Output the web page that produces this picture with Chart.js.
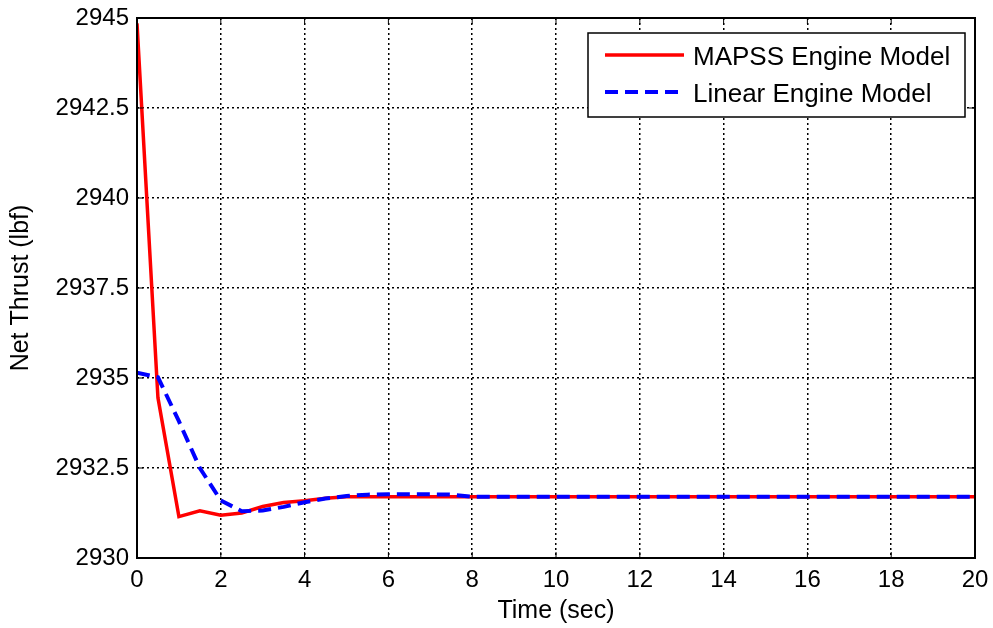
<!DOCTYPE html>
<html>
<head>
<meta charset="utf-8">
<script src="https://cdn.jsdelivr.net/npm/chart.js@4/dist/chart.umd.min.js"></script>
<style>
  html, body { margin: 0; padding: 0; background: #fff; }
  #wrap { width: 993px; height: 628px; }
</style>
</head>
<body>
<div id="wrap"><canvas id="thrustChart" width="993" height="628"></canvas></div>
<script>
// Net thrust response, MAPSS vs linear model
const timeMapss = [0, 0.5, 1, 1.5, 2, 2.5, 3, 3.5, 4, 4.5, 5, 5.5, 6, 8, 10, 12, 14, 16, 18, 20];
const thrustMapss = [2944.85, 2934.45, 2931.15, 2931.31, 2931.19, 2931.25, 2931.43, 2931.54, 2931.59, 2931.66, 2931.70, 2931.70, 2931.70, 2931.70, 2931.70, 2931.70, 2931.70, 2931.70, 2931.70, 2931.70];
const timeLinear = [0, 0.5, 1, 1.5, 2, 2.5, 3, 3.5, 4, 4.5, 5, 5.5, 6, 7, 7.5, 8, 10, 12, 14, 16, 18, 20];
const thrustLinear = [2935.15, 2935.02, 2933.8, 2932.5, 2931.6, 2931.30, 2931.32, 2931.42, 2931.55, 2931.65, 2931.72, 2931.76, 2931.77, 2931.77, 2931.76, 2931.70, 2931.70, 2931.70, 2931.70, 2931.70, 2931.70, 2931.70];
const xTicks = [0, 2, 4, 6, 8, 10, 12, 14, 16, 18, 20];
const yTicks = [2930, 2932.5, 2935, 2937.5, 2940, 2942.5, 2945];
const seriesNames = ['MAPSS Engine Model', 'Linear Engine Model'];

const FONT = 'Liberation Sans, Arial, sans-serif';

const toPoints = (xs, ys) => xs.map((x, i) => ({ x: x, y: ys[i] }));

// frame + legend box drawn inside the plot
const framePlugin = {
    id: 'framePlugin',
    afterDraw(chart) {
        const ctx = chart.ctx;
        const a = chart.chartArea;
        ctx.save();
        ctx.strokeStyle = '#000';
        ctx.lineWidth = 2;
        ctx.setLineDash([]);
        ctx.strokeRect(a.left, a.top, a.right - a.left, a.bottom - a.top);

        // small inward ticks like matlab
        ctx.lineWidth = 1;
        const xs = chart.scales.x, ys = chart.scales.y;
        xTicks.forEach(v => {
            const px = xs.getPixelForValue(v);
            ctx.beginPath();
            ctx.moveTo(px, a.bottom); ctx.lineTo(px, a.bottom - 6);
            ctx.moveTo(px, a.top); ctx.lineTo(px, a.top + 6);
            ctx.stroke();
        });
        yTicks.forEach(v => {
            const py = ys.getPixelForValue(v);
            ctx.beginPath();
            ctx.moveTo(a.left, py); ctx.lineTo(a.left + 6, py);
            ctx.moveTo(a.right, py); ctx.lineTo(a.right - 6, py);
            ctx.stroke();
        });

        // legend
        const bx = 588, by = 33, bw = 377, bh = 84;
        ctx.fillStyle = '#fff';
        ctx.fillRect(bx, by, bw, bh);
        ctx.lineWidth = 1.5;
        ctx.strokeStyle = '#000';
        ctx.strokeRect(bx, by, bw, bh);
        ctx.font = '26px ' + FONT;
        ctx.textBaseline = 'middle';
        chart.data.datasets.forEach((ds, i) => {
            const y = by + 22 + i * 37;
            ctx.strokeStyle = ds.borderColor;
            ctx.lineWidth = ds.borderWidth;
            ctx.setLineDash(ds.borderDash || []);
            ctx.beginPath();
            ctx.moveTo(605, y); ctx.lineTo(684, y);
            ctx.stroke();
            ctx.setLineDash([]);
            ctx.fillStyle = '#000';
            ctx.fillText(ds.label, 693, y + 3);
        });
        ctx.restore();
    }
};

new Chart(document.getElementById('thrustChart').getContext('2d'), {
    type: 'line',
    data: {
        datasets: [{
            label: seriesNames[0],
            data: toPoints(timeMapss, thrustMapss),
            borderColor: '#ff0000',
            borderWidth: 3.5,
            pointRadius: 0,
            tension: 0,
            fill: false,
            order: 1
        }, {
            label: seriesNames[1],
            data: toPoints(timeLinear, thrustLinear),
            borderColor: '#0000ff',
            borderWidth: 4,
            borderDash: [13, 7],
            pointRadius: 0,
            tension: 0,
            fill: false,
            order: 0
        }]
    },
    options: {
        responsive: false,
        animation: false,
        layout: { padding: { top: 18, right: 18, left: 0, bottom: 0 } },
        plugins: {
            legend: { display: false },
            tooltip: { enabled: false }
        },
        scales: {
            x: {
                type: 'linear',
                min: 0, max: 20,
                afterBuildTicks: s => { s.ticks = xTicks.map(v => ({ value: v })); },
                afterFit: s => { s.height = 70; s.paddingLeft = 0; s.paddingRight = 0; },
                grid: { color: '#000', lineWidth: 1.5, drawTicks: false },
                border: { display: false, dash: [2, 3] },
                ticks: { color: '#000', font: { family: FONT, size: 24 }, padding: 8, maxRotation: 0 },
                title: { display: true, text: 'Time (sec)', color: '#000', font: { family: FONT, size: 25 }, padding: { top: 0, bottom: 2 } }
            },
            y: {
                min: 2930, max: 2945,
                afterBuildTicks: s => { s.ticks = yTicks.map(v => ({ value: v })); },
                afterFit: s => { s.width = 137; s.paddingTop = 0; s.paddingBottom = 0; },
                grid: { color: '#000', lineWidth: 1.5, drawTicks: false },
                border: { display: false, dash: [2, 3] },
                ticks: { color: '#000', font: { family: FONT, size: 24 }, padding: 8, callback: v => String(v) },
                title: { display: true, text: 'Net Thrust (lbf)', color: '#000', font: { family: FONT, size: 25 }, padding: { top: 6, bottom: 0 } }
            }
        }
    },
    plugins: [framePlugin]
});
</script>
</body>
</html>
